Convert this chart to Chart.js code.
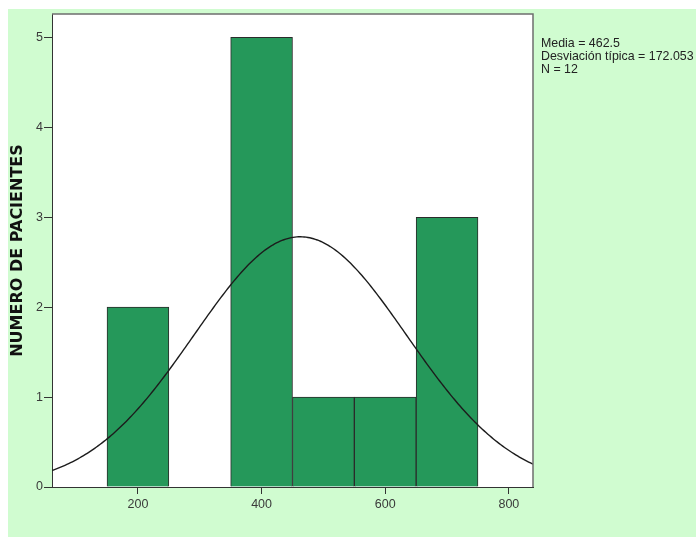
<!DOCTYPE html>
<html>
<head>
<meta charset="utf-8">
<script src="https://cdn.jsdelivr.net/npm/chart.js@4.4.1/dist/chart.umd.min.js"></script>
<style>
  html, body { margin: 0; padding: 0; background: #ffffff; }
  #wrap { width: 696px; height: 539px; }
</style>
</head>
<body>
<div id="wrap"><canvas id="hist" width="696" height="539"></canvas></div>
<script>
// Histogram bins (centre of each 100-wide bin) and patient counts
const binCenters = [200, 300, 400, 500, 600, 700];
const counts = [2, 0, 5, 1, 1, 3];
const binWidth = 100;

// Summary statistics shown beside the plot
const media = 462.5;
const desviacion = 172.053;
const nTotal = 12;

// Axis ticks
const xTicks = [200, 400, 600, 800];
const yTicks = [0, 1, 2, 3, 4, 5];
const xMin = 61, xMax = 839;
const yMax = 5.26;

// Fitted normal curve scaled to counts per bin
const curveX = [];
for (let x = xMin; x <= xMax; x += 3) curveX.push(x);
if (curveX[curveX.length - 1] !== xMax) curveX.push(xMax);
const curveY = curveX.map(x => {
  const z = (x - media) / desviacion;
  return nTotal * binWidth / (desviacion * Math.sqrt(2 * Math.PI)) * Math.exp(-0.5 * z * z);
});

const statLines = [
  'Media = ' + media,
  'Desviación típica = ' + desviacion.toFixed(3),
  'N = ' + nTotal
];

const backdrop = {
  id: 'backdrop',
  beforeDraw(chart) {
    const { ctx, chartArea: a } = chart;
    ctx.save();
    ctx.fillStyle = '#ffffff';
    ctx.fillRect(0, 0, chart.width, chart.height);
    ctx.fillStyle = '#d0fcd0';
    ctx.fillRect(8, 9, chart.width - 8, chart.height - 11);
    ctx.fillStyle = '#ffffff';
    ctx.fillRect(a.left, a.top, a.right - a.left, a.bottom - a.top);
    ctx.restore();
  },
  afterDatasetsDraw(chart) {
    const { ctx, chartArea: a } = chart;
    ctx.save();
    ctx.strokeStyle = '#6e6e6e';
    ctx.lineWidth = 1.5;
    ctx.beginPath();
    ctx.moveTo(a.left, a.top);
    ctx.lineTo(a.right, a.top);
    ctx.lineTo(a.right, a.bottom);
    ctx.stroke();
    ctx.restore();
  },
  afterDraw(chart) {
    const { ctx, chartArea: a } = chart;
    ctx.save();
    ctx.fillStyle = '#222222';
    ctx.font = '12.4px "Liberation Sans", Arial, sans-serif';
    ctx.textBaseline = 'middle';
    ctx.textAlign = 'left';
    statLines.forEach((t, i) => ctx.fillText(t, a.right + 8, 44 + i * 13));
    ctx.restore();
  }
};

new Chart(document.getElementById('hist'), {
  type: 'bar',
  data: {
    datasets: [
      {
        type: 'line',
        data: curveX.map((x, i) => ({ x, y: curveY[i] })),
        borderColor: '#1c1c1c',
        borderWidth: 1.4,
        pointRadius: 0,
        tension: 0,
        fill: false,
        order: 0
      },
      {
        type: 'bar',
        data: binCenters.map((x, i) => ({ x, y: counts[i] })),
        backgroundColor: '#25985a',
        borderColor: '#2b2b2b',
        borderWidth: 1,
        barPercentage: 1,
        categoryPercentage: 1,
        order: 1
      }
    ]
  },
  options: {
    responsive: false,
    animation: false,
    events: [],
    layout: { padding: { left: 0, right: 163, top: 14, bottom: 0 } },
    plugins: { legend: { display: false }, tooltip: { enabled: false } },
    scales: {
      x: {
        type: 'linear',
        offset: false,
        min: xMin,
        max: xMax,
        afterBuildTicks: s => { s.ticks = xTicks.map(v => ({ value: v })); },
        afterFit: s => { s.height = 52; },
        ticks: {
          color: '#3a3a3a',
          padding: 3,
          font: { family: '"Liberation Sans", Arial, sans-serif', size: 12.5 }
        },
        grid: { offset: false, drawOnChartArea: false, drawTicks: true, tickLength: 7, color: '#333333', lineWidth: 1 },
        border: { display: true, color: '#333333', width: 1 }
      },
      y: {
        min: 0,
        max: yMax,
        afterBuildTicks: s => { s.ticks = yTicks.map(v => ({ value: v })); },
        afterFit: s => { s.width = 52; },
        ticks: {
          color: '#3a3a3a',
          padding: 1,
          font: { family: '"Liberation Sans", Arial, sans-serif', size: 12.5 }
        },
        grid: { drawOnChartArea: false, drawTicks: true, tickLength: 8, color: '#333333', lineWidth: 1 },
        border: { display: true, color: '#333333', width: 1 },
        title: {
          display: true,
          text: 'NUMERO DE PACIENTES',
          color: '#111111',
          padding: { top: 8, bottom: 0 },
          font: { family: '"DejaVu Sans", sans-serif', size: 16, weight: 'bold' }
        }
      }
    }
  },
  plugins: [backdrop]
});
</script>
</body>
</html>
